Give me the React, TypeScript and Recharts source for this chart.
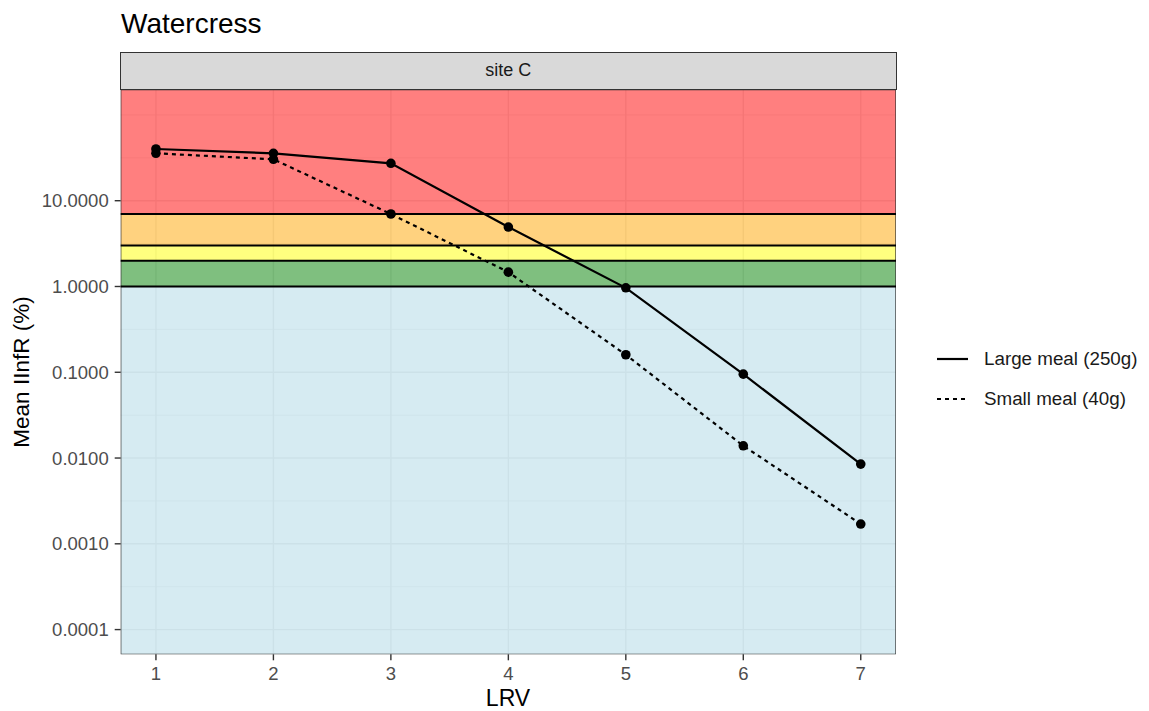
import React from 'react';
import { LineChart, Line, XAxis, YAxis, CartesianGrid, ReferenceArea, ReferenceLine } from 'recharts';

// ---- data ----
const lrv = [1, 2, 3, 4, 5, 6, 7];
const largeMeal = [40.1, 35.7, 27.3, 4.93, 0.965, 0.095, 0.0085];
const smallMeal = [35.7, 30.4, 7.0, 1.47, 0.16, 0.0139, 0.0017];
const seriesNames = ['Large meal (250g)', 'Small meal (40g)'];

const xTicks = [1, 2, 3, 4, 5, 6, 7];
const yTicks = [0.0001, 0.001, 0.01, 0.1, 1, 10];
const yMinorGrid = [0.000316, 0.00316, 0.0316, 0.316, 3.16, 31.6, 100];

const X_MIN = 0.7;
const X_MAX = 7.3;
const Y_MIN = 5.15e-5;
const Y_MAX = 198;

const bandLower = [7, 3, 2, 1, Y_MIN];
const bandUpper = [Y_MAX, 7, 3, 2, 1];
const bandColors = ['#FF0000', '#FFA500', '#FFFF00', '#008000', '#ADD8E6'];
const bandEdges = [7, 3, 2, 1];

const title = 'Watercress';
const facetLabel = 'site C';
const xLabel = 'LRV';
const yLabel = 'Mean IInfR (%)';

const data = lrv.map((x, i) => ({ lrv: x, large: largeMeal[i], small: smallMeal[i] }));

const FONT = '"Liberation Sans", Arial, sans-serif';
const W = 1141;
const H = 703;

export default function App() {
  return (
    <div style={{ position: 'relative', width: W, height: H, fontFamily: FONT, background: '#fff' }}>
      <LineChart
        width={W}
        height={H}
        data={data}
        margin={{ top: 81.5, right: 253, bottom: 26.7, left: 12.7 }}
      >
        <CartesianGrid
          stroke="#EBEBEB"
          strokeWidth={0.7}
          horizontalValues={yMinorGrid}
          vertical={false}
        />
        <CartesianGrid
          stroke="#EBEBEB"
          strokeWidth={1.4}
          horizontalValues={yTicks}
          verticalValues={xTicks}
        />
        <XAxis
          dataKey="lrv"
          type="number"
          domain={[X_MIN, X_MAX]}
          ticks={xTicks}
          allowDataOverflow
          axisLine={false}
          tickLine={{ stroke: '#333333', strokeWidth: 1.4 }}
          tickSize={6}
          tickMargin={7}
          height={30}
          tick={{ fill: '#4D4D4D', fontSize: 18.5, fontFamily: FONT }}
        />
        <YAxis
          type="number"
          scale="log"
          domain={[Y_MIN, Y_MAX]}
          ticks={yTicks}
          allowDataOverflow
          axisLine={false}
          tickLine={{ stroke: '#333333', strokeWidth: 1.4 }}
          tickSize={6}
          tickMargin={6}
          width={100}
          tickFormatter={(v: number) => v.toFixed(4)}
          tick={{ fill: '#4D4D4D', fontSize: 18.5, fontFamily: FONT }}
        />
        {bandColors.map((c, i) => (
          <ReferenceArea
            key={'band' + i}
            x1={X_MIN}
            x2={X_MAX}
            y1={bandLower[i]}
            y2={bandUpper[i]}
            fill={c}
            fillOpacity={0.5}
            stroke="none"
            ifOverflow="hidden"
          />
        ))}
        {bandEdges.map((v) => (
          <ReferenceLine key={'edge' + v} y={v} stroke="#000" strokeWidth={2} />
        ))}
        <Line
          dataKey="large"
          name={seriesNames[0]}
          stroke="#000"
          strokeWidth={2.2}
          dot={{ r: 4.8, fill: '#000', stroke: '#000', strokeWidth: 0 }}
          activeDot={false}
          isAnimationActive={false}
        />
        <Line
          dataKey="small"
          name={seriesNames[1]}
          stroke="#000"
          strokeWidth={2.2}
          strokeDasharray="4 4"
          dot={{ r: 4.8, fill: '#000', stroke: '#000', strokeWidth: 0 }}
          activeDot={false}
          isAnimationActive={false}
        />
        <ReferenceArea
          x1={X_MIN}
          x2={X_MAX}
          y1={Y_MIN}
          y2={Y_MAX}
          fill="none"
          stroke="#333333"
          strokeWidth={1.3}
          ifOverflow="hidden"
        />
      </LineChart>

      {/* title */}
      <div style={{ position: 'absolute', left: 113, top: 2, fontSize: 28, lineHeight: '28px', color: '#000', whiteSpace: 'nowrap' }}>
        {title}
      </div>

      {/* facet strip */}
      <div
        style={{
          position: 'absolute',
          left: 112,
          top: 44,
          width: 776.5,
          height: 37.5,
          boxSizing: 'border-box',
          background: '#D9D9D9',
          border: '1.3px solid #333333',
          display: 'flex',
          alignItems: 'center',
          justifyContent: 'center',
          fontSize: 18,
          color: '#1A1A1A',
        }}
      >
        {facetLabel}
      </div>

      {/* axis titles */}
      <div
        style={{
          position: 'absolute',
          left: 14,
          top: 364,
          transform: 'translate(-50%, -50%) rotate(-90deg)',
          fontSize: 22.5,
          whiteSpace: 'nowrap',
          color: '#000',
        }}
      >
        {yLabel}
      </div>
      <div
        style={{
          position: 'absolute',
          left: 500,
          top: 690,
          transform: 'translate(-50%, -50%)',
          fontSize: 23,
          whiteSpace: 'nowrap',
          color: '#000',
        }}
      >
        {xLabel}
      </div>

      {/* legend */}
      {seriesNames.map((name, i) => (
        <div
          key={name}
          style={{
            position: 'absolute',
            left: 928,
            top: 351 + i * 40 - 12,
            height: 24,
            display: 'flex',
            alignItems: 'center',
            whiteSpace: 'nowrap',
          }}
        >
          <svg width={33} height={24} style={{ display: 'block' }}>
            <line
              x1={1}
              x2={32}
              y1={12}
              y2={12}
              stroke="#000"
              strokeWidth={2.2}
              strokeDasharray={i === 1 ? '4 4' : undefined}
            />
          </svg>
          <span style={{ marginLeft: 15, fontSize: 18.8, color: '#1A1A1A' }}>{name}</span>
        </div>
      ))}
    </div>
  );
}
